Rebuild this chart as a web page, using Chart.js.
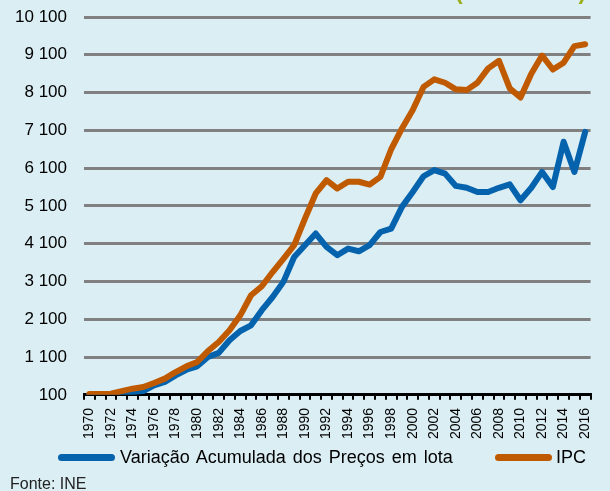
<!DOCTYPE html>
<html>
<head>
<meta charset="utf-8">
<script src="https://cdn.jsdelivr.net/npm/chart.js@4/dist/chart.umd.min.js"></script>
<style>
  html, body { margin: 0; padding: 0; background: #DBEEF4; overflow: hidden; }
  #wrap { position: relative; width: 610px; height: 491px; overflow: hidden; }
  #myChart { position: absolute; left: 0; top: 0; }
  #fonte { position: absolute; left: 10px; top: 475px; font: 16px "Liberation Sans", Arial, sans-serif; color: #222; }
  #top { position: absolute; left: 455px; top: -22px; font: bold 23px "Liberation Sans", Arial, sans-serif; color: #9BAF1E; white-space: pre; }
  #legend { position: absolute; top: 447px; left: 0; width: 610px; height: 24px; font: 18px "Liberation Sans", Arial, sans-serif; color: #000; }
  .sw { position: absolute; top: 7px; height: 7px; border-radius: 3.5px; }
  .tx { position: absolute; top: 0; white-space: nowrap; word-spacing: 2px; }
</style>
</head>
<body>
<div id="wrap">
  <canvas id="myChart" width="610" height="491"></canvas>
  <div id="top">(1970 = 100)</div>
  <div id="legend"></div>
  <div id="fonte">Fonte: INE</div>
</div>
<script>
const years = ["1970", "1971", "1972", "1973", "1974", "1975", "1976", "1977", "1978", "1979",
  "1980", "1981", "1982", "1983", "1984", "1985", "1986", "1987", "1988", "1989",
  "1990", "1991", "1992", "1993", "1994", "1995", "1996", "1997", "1998", "1999",
  "2000", "2001", "2002", "2003", "2004", "2005", "2006", "2007", "2008", "2009",
  "2010", "2011", "2012", "2013", "2014", "2015", "2016"];

// variação acumulada dos preços em lota
const lota = [100, 100, 110, 130, 175, 200, 350, 440, 615, 765,
  855, 1100, 1210, 1545, 1790, 1940, 2340, 2690, 3090, 3750,
  4060, 4370, 4015, 3795, 3970, 3900, 4060, 4410, 4500, 5075,
  5470, 5885, 6050, 5955, 5630, 5580, 5470, 5470, 5580, 5670,
  5250, 5580, 6000, 5600, 6800, 6000, 7060];

// IPC
const ipc = [120, 120, 130, 200, 264, 307, 413, 529, 704, 855,
  970, 1260, 1500, 1810, 2205, 2735, 2975, 3350, 3700, 4060,
  4765, 5430, 5780, 5560, 5740, 5740, 5665, 5870, 6600, 7150,
  7640, 8250, 8450, 8360, 8185, 8165, 8360, 8740, 8940, 8210,
  7970, 8600, 9080, 8710, 8890, 9330, 9380];

const yTicks = [100, 1100, 2100, 3100, 4100, 5100, 6100, 7100, 8100, 9100, 10100];

function fmt(v) {
  return String(v).replace(/\B(?=(\d{3})+(?!\d))/g, " ");
}

const ctx = document.getElementById("myChart").getContext("2d");
Chart.defaults.font.family = "'Liberation Sans', Arial, sans-serif";
Chart.defaults.color = "#000";

let chart = new Chart(ctx, {
  type: "line",
  data: {
    labels: years,
    datasets: [
      {
        label: "Variação Acumulada dos Preços em lota",
        borderColor: "#0563AE",
        backgroundColor: "#0563AE",
        data: lota,
        order: 1,
      },
      {
        label: "IPC",
        borderColor: "#C05A00",
        backgroundColor: "#C05A00",
        data: ipc,
        order: 0,
      },
    ],
  },
  options: {
    responsive: false,
    animation: false,
    elements: {
      line: { borderWidth: 6, tension: 0, borderJoinStyle: "round", borderCapStyle: "round" },
      point: { radius: 0 },
    },
    layout: { padding: { top: 17, right: 1, left: 0, bottom: 44 } },
    plugins: {
      tooltip: { enabled: false },
      legend: { display: false },
    },
    scales: {
      x: {
        offset: true,
        afterFit: (s) => { s.paddingTop = 0; s.paddingBottom = 0; },
        grid: {
          offset: true,
          drawOnChartArea: false,
          drawTicks: true,
          tickLength: 5,
          color: "#000",
          lineWidth: 2,
        },
        border: { color: "#000", width: 3 },
        ticks: {
          autoSkip: false,
          maxRotation: 90,
          minRotation: 90,
          padding: 8,
          font: { size: 14 },
          callback: function (v, i) { return i % 2 === 0 ? years[i] : ""; },
        },
      },
      y: {
        min: 100,
        max: 10100,
        afterFit: (s) => { s.width = 84; s.paddingTop = 0; s.paddingBottom = 0; },
        afterBuildTicks: (s) => { s.ticks = yTicks.map((v) => ({ value: v })); },
        grid: { color: "#808080", lineWidth: 3, drawTicks: false },
        border: { display: false },
        ticks: {
          padding: 17,
          font: { size: 17 },
          callback: (v) => fmt(v),
        },
      },
    },
  },
});

// legend built from the datasets
const legendPos = [{ sw: 58, w: 57, tx: 120 }, { sw: 495, w: 57, tx: 556 }];
const legendEl = document.getElementById("legend");
chart.data.datasets.forEach((ds, i) => {
  const sw = document.createElement("span");
  sw.className = "sw";
  sw.style.left = legendPos[i].sw + "px";
  sw.style.width = legendPos[i].w + "px";
  sw.style.background = ds.borderColor;
  const tx = document.createElement("span");
  tx.className = "tx";
  tx.style.left = legendPos[i].tx + "px";
  tx.textContent = ds.label;
  legendEl.appendChild(sw);
  legendEl.appendChild(tx);
});
</script>
</body>
</html>
